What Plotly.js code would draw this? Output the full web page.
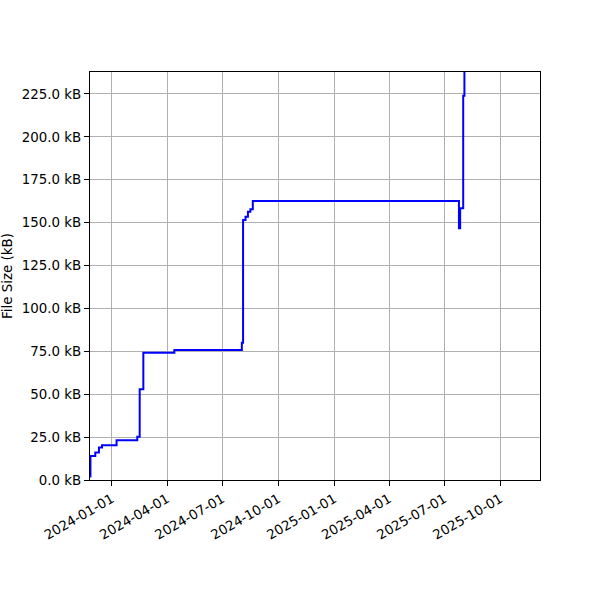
<!DOCTYPE html>
<html>
<head>
<meta charset="utf-8">
<script src="https://cdn.plot.ly/plotly-3.0.1.min.js"></script>
<style>html,body{margin:0;padding:0;background:#fff;}#chart{width:600px;height:600px;}</style>
</head>
<body>
<div id="chart"></div>
<script>
// Change points of the file size history (date, size in kB)
const dates = [
  '2023-11-26 12:00', '2023-11-27', '2023-12-05', '2023-12-11', '2023-12-16',
  '2024-01-09', '2024-02-12', '2024-02-16', '2024-02-22', '2024-04-13',
  '2024-08-02', '2024-08-04', '2024-08-08', '2024-08-12', '2024-08-16', '2024-08-20',
  '2025-07-25', '2025-07-27', '2025-07-31', '2025-08-01', '2025-08-03'
];
const sizes = [
  2.0, 14.0, 16.0, 19.0, 20.2,
  23.1, 25.2, 52.9, 74.2, 75.8,
  80.0, 151.5, 153.5, 156.4, 157.8, 162.6,
  146.7, 158.4, 158.4, 224.0, 260.0
];

const xTickVals = ['2024-01-01', '2024-04-01', '2024-07-01', '2024-10-01',
                   '2025-01-01', '2025-04-01', '2025-07-01', '2025-10-01'];
const xTickText = ['2024-01-01', '2024-04-01', '2024-07-01', '2024-10-01',
                   '2025-01-01', '2025-04-01', '2025-07-01', '2025-10-01'];
const yTickVals = [0, 25, 50, 75, 100, 125, 150, 175, 200, 225];
const yTickText = ['0.0 kB', '25.0 kB', '50.0 kB', '75.0 kB', '100.0 kB',
                   '125.0 kB', '150.0 kB', '175.0 kB', '200.0 kB', '225.0 kB'];

const font = {family: 'DejaVu Sans', size: 13.4, color: '#000'};

const trace = {
  x: dates, y: sizes, type: 'scatter', mode: 'lines',
  line: {color: '#0000ff', width: 2, shape: 'linear'},
  hoverinfo: 'skip'
};

const layout = {
  width: 600, height: 600,
  margin: {l: 90, r: 60, t: 72, b: 120},
  paper_bgcolor: '#fff', plot_bgcolor: '#fff',
  showlegend: false,
  font: font,
  xaxis: {
    type: 'date',
    range: ['2023-11-26 07:00', '2025-12-05 07:00'],
    tickmode: 'array', tickvals: xTickVals, ticktext: xTickText,
    tickangle: -30,
    ticks: 'outside', ticklen: 5, tickwidth: 1, tickcolor: '#000',
    showgrid: true, gridcolor: '#b0b0b0', gridwidth: 1,
    showline: true, linecolor: '#000', linewidth: 1, mirror: true,
    zeroline: false, automargin: false,
    tickfont: font
  },
  yaxis: {
    range: [0, 237.8],
    tickmode: 'array', tickvals: yTickVals, ticktext: yTickText,
    ticks: 'outside', ticklen: 5, tickwidth: 1, tickcolor: '#000',
    showgrid: true, gridcolor: '#b0b0b0', gridwidth: 1,
    showline: true, linecolor: '#000', linewidth: 1, mirror: true,
    zeroline: false, automargin: false,
    tickfont: font,
    title: {text: 'File Size (kB)', font: font, standoff: 6}
  }
};

// Build step-like line: horizontal then vertical between change points
const sx = [], sy = [];
for (let i = 0; i < dates.length; i++) {
  if (i > 0) { sx.push(dates[i]); sy.push(sizes[i - 1]); }
  sx.push(dates[i]); sy.push(sizes[i]);
}
trace.x = sx; trace.y = sy;

Plotly.newPlot('chart', [trace], layout, {displayModeBar: false, staticPlot: true});
</script>
</body>
</html>
